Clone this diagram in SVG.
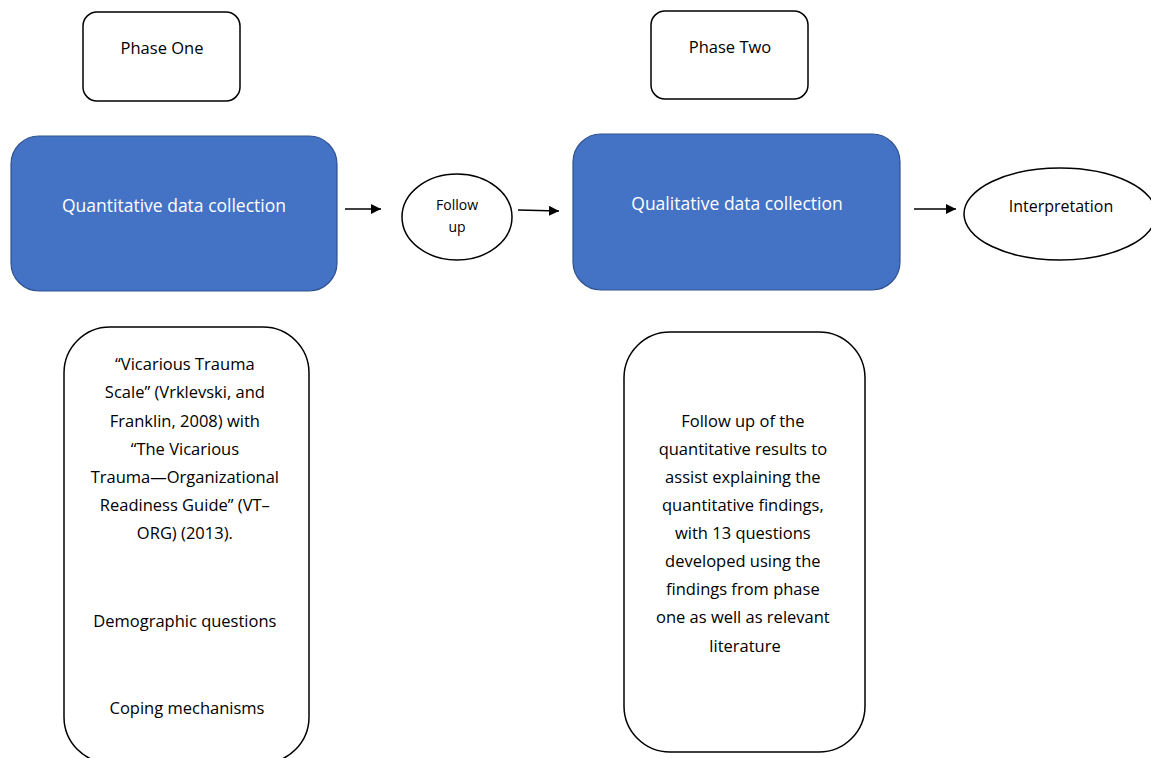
<svg xmlns="http://www.w3.org/2000/svg" width="1151" height="758" viewBox="0 0 1151 758">
  <style>
    .box { fill: #ffffff; stroke: #000000; stroke-width: 1.5; }
    .blue { fill: #4472C4; stroke: #2F528F; stroke-width: 1.2; }
    .t { font-family: "Open Sans", "Noto Sans", sans-serif; fill: #000000; text-anchor: middle; }
    .w { font-family: "Open Sans", "Noto Sans", sans-serif; fill: #ffffff; text-anchor: middle; }
    .conn { stroke: #000000; stroke-width: 1.6; fill: none; marker-end: url(#arrow); }
  </style>
  <defs>
    <marker id="arrow" viewBox="0 0 10 10" refX="10" refY="5" markerWidth="10" markerHeight="10" markerUnits="userSpaceOnUse" orient="auto">
      <path d="M0,0 L10,5 L0,10 Z" fill="#000000"/>
    </marker>
  </defs>

  <rect width="1151" height="758" fill="#ffffff"/>

  <g id="phase-one">
    <rect class="box" x="83" y="12" width="157" height="89" rx="14"/>
    <text class="t" x="162" y="54" font-size="16.5">Phase One</text>
  </g>

  <g id="phase-two">
    <rect class="box" x="651" y="11" width="157" height="88" rx="14"/>
    <text class="t" x="730" y="53" font-size="16.5">Phase Two</text>
  </g>

  <g id="quantitative">
    <rect class="blue" x="11" y="136" width="326" height="155" rx="28"/>
    <text class="w" x="174" y="212" font-size="17.5">Quantitative data collection</text>
  </g>

  <g id="follow-up">
    <ellipse class="box" cx="457" cy="217" rx="55" ry="43"/>
    <text class="t" x="457" y="210" font-size="14">Follow</text>
    <text class="t" x="457" y="232" font-size="14">up</text>
  </g>

  <g id="qualitative">
    <rect class="blue" x="573" y="134" width="327" height="156" rx="28"/>
    <text class="w" x="737" y="210" font-size="17.5">Qualitative data collection</text>
  </g>

  <g id="interpretation">
    <ellipse class="box" cx="1060" cy="214" rx="96" ry="46"/>
    <text class="t" x="1061" y="212" font-size="16">Interpretation</text>
  </g>

  <g id="phase-one-instruments">
    <rect class="box" x="64" y="327" width="245" height="436" rx="46"/>
    <text class="t" font-size="16.5">
      <tspan x="187" y="370">“Vicarious Trauma</tspan>
      <tspan x="187" y="398">Scale” (Vrklevski, and</tspan>
      <tspan x="187" y="427">Franklin, 2008) with</tspan>
      <tspan x="187" y="455">“The Vicarious</tspan>
      <tspan x="187" y="483">Trauma—Organizational</tspan>
      <tspan x="187" y="511">Readiness Guide” (VT–</tspan>
      <tspan x="187" y="539">ORG) (2013).</tspan>
      <tspan x="187" y="627">Demographic questions</tspan>
      <tspan x="187" y="714">Coping mechanisms</tspan>
    </text>
  </g>

  <g id="phase-two-instruments">
    <rect class="box" x="624" y="332" width="241" height="420" rx="46"/>
    <text class="t" font-size="16.5">
      <tspan x="745" y="427">Follow up of the</tspan>
      <tspan x="745" y="455">quantitative results to</tspan>
      <tspan x="745" y="483">assist explaining the</tspan>
      <tspan x="745" y="511">quantitative findings,</tspan>
      <tspan x="745" y="539">with 13 questions</tspan>
      <tspan x="745" y="567">developed using the</tspan>
      <tspan x="745" y="595">findings from phase</tspan>
      <tspan x="745" y="623">one as well as relevant</tspan>
      <tspan x="745" y="652">literature</tspan>
    </text>
  </g>

  <g id="connectors">
    <line class="conn" x1="345" y1="209" x2="381" y2="209"/>
    <line class="conn" x1="518" y1="210" x2="559" y2="211"/>
    <line class="conn" x1="914" y1="209" x2="956" y2="209"/>
  </g>
</svg>
